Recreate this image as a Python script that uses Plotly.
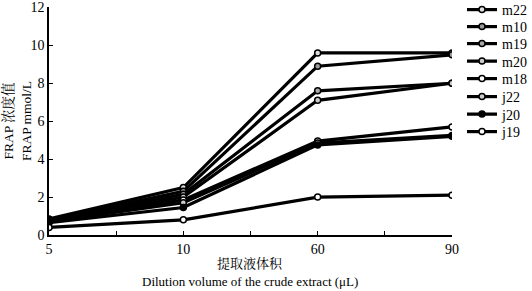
import plotly.graph_objects as go

x_labels = ["5", "10", "60", "90"]
series_names = ["m22", "m10", "m19", "m20", "m18", "j22", "j20", "j19"]
m22 = [0.85, 2.5, 9.6, 9.6]
m10 = [0.8, 2.3, 8.9, 9.5]
m19 = [0.8, 2.15, 7.6, 8.0]
m20 = [0.75, 2.0, 7.1, 8.0]
m18 = [0.7, 1.85, 4.95, 5.7]
j22 = [0.7, 1.7, 4.85, 5.25]
j20 = [0.65, 1.45, 4.75, 5.2]
j19 = [0.4, 0.8, 2.0, 2.1]
values = [m22, m10, m19, m20, m18, j22, j20, j19]
marker_fills = ["#dddddd", "#999999", "#aaaaaa", "#cccccc", "white", "#cccccc", "black", "white"]

FONT = "Liberation Serif, Times New Roman, Noto Serif CJK SC, Noto Sans CJK SC, serif"
xpos = list(range(len(x_labels)))

# plot area in pixels
W, H = 532, 291
L, R, T, B = 49, 80, 7, 56
plot_h = H - T - B
legend_centers_px = [10, 27, 44, 61.5, 79, 97, 114.5, 132]

fig = go.Figure()
layout_legends = {}
for i, (name, vals, fc) in enumerate(zip(series_names, values, marker_fills)):
    key = "legend" if i == 0 else f"legend{i + 1}"
    fig.add_trace(go.Scatter(
        x=xpos, y=vals, name=name, mode="lines+markers",
        line=dict(color="black", width=3.2),
        marker=dict(symbol="circle", size=6, color=fc, line=dict(color="black", width=1.5)),
        legend=key,
    ))
    ypx = legend_centers_px[i]
    layout_legends[key] = dict(
        x=(462 - L) / (W - L - R), y=(H - B - ypx) / plot_h,
        xanchor="left", yanchor="middle",
        font=dict(family=FONT, size=14), itemwidth=30,
        bgcolor="rgba(0,0,0,0)", borderwidth=0,
    )

tickvals = [0, 0.5, 1, 1.5, 2, 2.5, 3]
ticktext = ["5", "", "10", "", "60", "", "90"]

fig.update_layout(
    width=W, height=H,
    margin=dict(l=L, r=R, t=T, b=B, autoexpand=False),
    paper_bgcolor="white", plot_bgcolor="white",
    font=dict(family=FONT, size=14, color="black"),
    showlegend=True,
    xaxis=dict(range=[0, 3], tickvals=tickvals, ticktext=ticktext, automargin=False,
               showgrid=False, zeroline=False, showline=True, linecolor="black", linewidth=1.5,
               ticks="inside", ticklen=4, tickcolor="black", tickfont=dict(size=14)),
    yaxis=dict(range=[0, 12.02], tickvals=[0, 2, 4, 6, 8, 10, 12], automargin=False,
               showgrid=False, zeroline=False,
               showline=True, linecolor="black", linewidth=1.5,
               ticks="inside", ticklen=4, tickcolor="black", tickfont=dict(size=14),
               title=dict(text="FRAP 浓度值<br>FRAP mmol/L", font=dict(family=FONT, size=13.5), standoff=5)),
    annotations=[
        dict(text="提取液体积", xref="paper", yref="paper", x=0.499, y=-(263 - (H - B)) / plot_h,
             xanchor="center", yanchor="middle", showarrow=False, font=dict(family=FONT, size=13)),
        dict(text="Dilution volume of the crude extract (μL)", xref="paper", yref="paper",
             x=0.499, y=-(281 - (H - B)) / plot_h, xanchor="center", yanchor="middle", showarrow=False,
             font=dict(family=FONT, size=13)),
    ],
    **layout_legends,
)

fig.write_html("out.html", config={"displayModeBar": False},
               post_script="document.body.style.margin='0';document.body.style.overflow='hidden';")
